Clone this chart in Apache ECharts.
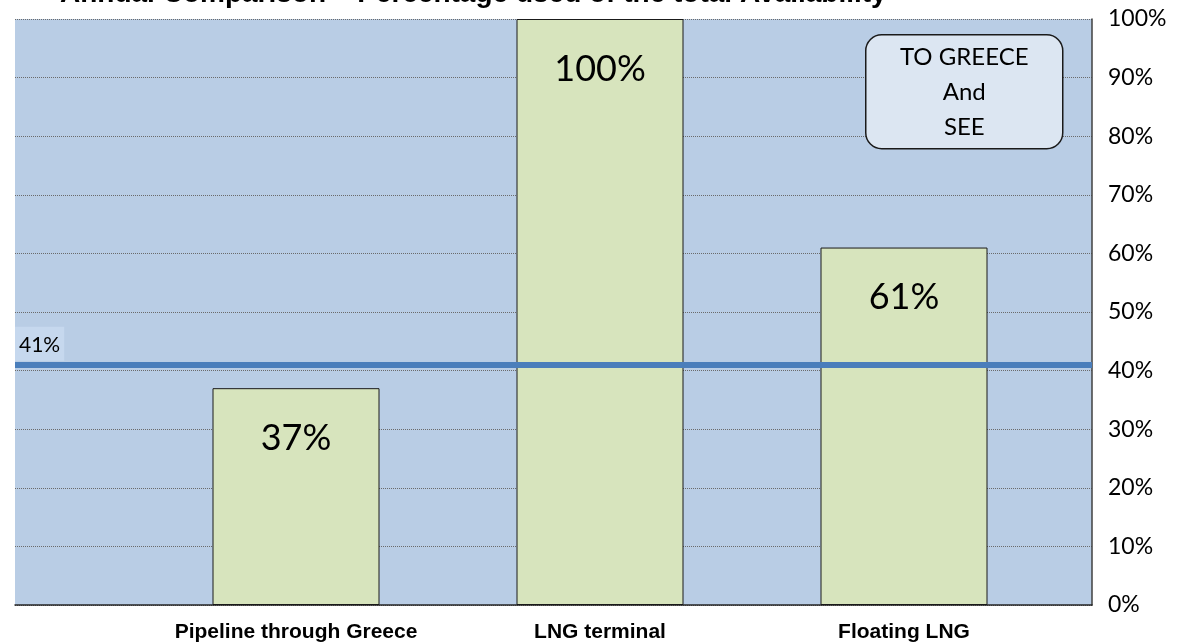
<!DOCTYPE html>
<html>
<head>
<meta charset="utf-8">
<script src="https://cdn.jsdelivr.net/npm/echarts@6/dist/echarts.min.js"></script>
<style>
  html, body { margin: 0; padding: 0; background: #fff; }
  #chart { width: 1186px; height: 644px; }
</style>
</head>
<body>
<div id="chart"></div>
<script>
// chart data
const categories = ['Pipeline through Greece', 'LNG terminal', 'Floating LNG'];
const usage = [37, 100, 61];
const averageLevel = 41;
const yTicks = [0, 10, 20, 30, 40, 50, 60, 70, 80, 90, 100];
const titleText = 'Annual Comparison \u2013 Percentage used of the total Availability';
const noteText = 'TO GREECE\nAnd\nSEE';

const chart = echarts.init(document.getElementById('chart'));

const option = {
    animation: false,
    backgroundColor: '#ffffff',
    title: {
        text: titleText,
        left: 55,
        top: -25,
        textStyle: { fontFamily: 'Liberation Sans', fontWeight: 'bold', fontSize: 28, color: '#000' }
    },
    grid: [
        // full plot area (background, gridlines, 41% line)
        {
            left: 15, right: 94, top: 19, bottom: 39, outerBoundsMode: 'none',
            show: true, backgroundColor: '#B9CDE5', borderWidth: 0
        },
        // bars
        { left: 144, right: 130, top: 19, bottom: 39, outerBoundsMode: 'none' }
    ],
    xAxis: [
        {
            gridIndex: 0, type: 'value', min: 0, max: 1,
            axisLabel: { show: false }, axisTick: { show: false }, splitLine: { show: false },
            axisLine: { show: true, onZero: false, lineStyle: { color: '#262626', width: 1.5 } }
        },
        {
            gridIndex: 1, type: 'category', data: categories,
            axisLine: { show: false }, axisTick: { show: false },
            axisLabel: {
                interval: 0, margin: 17, color: '#000', fontFamily: 'Liberation Sans',
                fontWeight: 'bold', fontSize: 21
            }
        }
    ],
    yAxis: [
        {
            gridIndex: 0, type: 'value', position: 'right',
            min: yTicks[0], max: yTicks[yTicks.length - 1], interval: 10,
            axisLine: { show: true, onZero: false, lineStyle: { color: '#404040', width: 1.5 } },
            axisTick: { show: false },
            axisLabel: {
                margin: 16, color: '#000', fontFamily: 'Lato', fontSize: 23,
                formatter: '{value}%', padding: [5, 0, 0, 0]
            },
            splitLine: { show: true, lineStyle: { color: '#6b6b6b', type: 'dotted', width: 1 } }
        },
        {
            gridIndex: 1, type: 'value', min: 0, max: 100, show: false
        }
    ],
    series: [
        {
            type: 'bar',
            xAxisIndex: 1, yAxisIndex: 1,
            data: usage,
            barWidth: 167,
            itemStyle: { color: '#D7E4BD', borderColor: '#1a1a1a', borderWidth: 1 },
            label: {
                show: true, position: 'insideTop', distance: 32,
                fontFamily: 'Lato', fontSize: 36, color: '#000', formatter: '{c}%'
            }
        },
        {
            type: 'line',
            xAxisIndex: 0, yAxisIndex: 0,
            data: [],
            markLine: {
                symbol: 'none',
                silent: true,
                lineStyle: { color: '#4A7EBB', width: 6, type: 'solid' },
                label: {
                    show: true, position: 'insideStartTop', distance: [0, 4],
                    formatter: '{c}%', fontFamily: 'Lato', fontSize: 21, color: '#000',
                    backgroundColor: '#C6D8EE', padding: [8, 4, 5, 4]
                },
                data: [{ yAxis: averageLevel }]
            }
        }
    ],
    graphic: [
        {
            type: 'group',
            left: 865,
            top: 34,
            children: [
                {
                    type: 'rect',
                    z: 100,
                    shape: { x: 0, y: 0, width: 197, height: 114, r: 16 },
                    style: { fill: '#DCE6F2', stroke: '#1a1a1a', lineWidth: 1.5 }
                },
                {
                    type: 'text',
                    z: 101,
                    x: 98.5, y: 5,
                    style: {
                        text: noteText, align: 'center', verticalAlign: 'top',
                        font: '24px Lato', lineHeight: 35, fill: '#000'
                    }
                }
            ]
        }
    ]
};

chart.setOption(option);
</script>
</body>
</html>
